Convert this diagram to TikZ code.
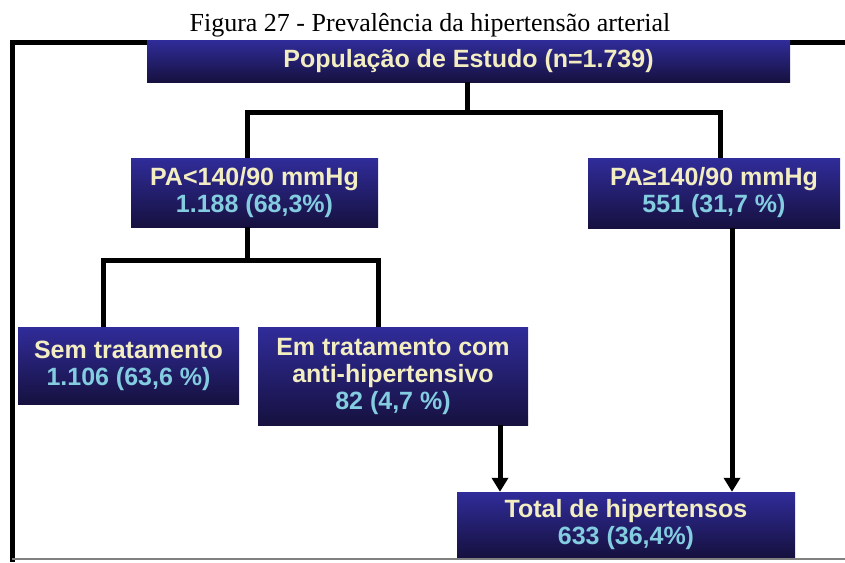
\documentclass[tikz,border=0pt]{standalone}
\usepackage{fontspec}
\setmainfont{Liberation Serif}
\setsansfont{Liberation Sans}
\usepackage{tikz}
\usetikzlibrary{arrows.meta}
\definecolor{boxtop}{HTML}{302C9A}
\definecolor{boxbot}{HTML}{16113F}
\definecolor{cream}{HTML}{F3EDC2}
\definecolor{cyanish}{HTML}{84CDE0}

\begin{document}
\begin{tikzpicture}
  [x=1pt,y=-1pt,
   box/.style={top color=boxtop,bottom color=boxbot,inner sep=0pt,align=center,
     text=cream,font=\sffamily\bfseries\fontsize{25}{27}\selectfont},
   line/.style={line width=5pt},
   arr/.style={line width=5pt,-{Triangle[length=14pt,width=16pt]}}]
  \useasboundingbox (0,0) rectangle (845,562);
  \draw[line] (845,42) -- (12,42) -- (12,562);
  \draw[gray,line width=1.5pt] (12,559) -- (845,559);
  \node[font=\fontsize{26}{30}\selectfont,anchor=base] (title) at (430,31) {Figura 27 - Prevalência da hipertensão arterial};
  \node[box,minimum width=643,minimum height=42] (pop) at (468.5,61) {População de Estudo (n=1.739)};
  \node[box,minimum width=247,minimum height=69] (lo) at (254.5,192.5) {PA<140/90 mmHg\\\textcolor{cyanish}{1.188 (68,3\%)}};
  \node[box,minimum width=252,minimum height=70] (hi) at (714,193) {PA≥140/90 mmHg\\\textcolor{cyanish}{551 (31,7 \%)}};
  \node[box,minimum width=221,minimum height=77] (sem) at (128.5,365.5) {Sem tratamento\\\textcolor{cyanish}{1.106 (63,6 \%)}};
  \node[box,minimum width=270,minimum height=98] (em) at (393,376) {Em tratamento com\\anti-hipertensivo\\\textcolor{cyanish}{82 (4,7 \%)}};
  \node[box,minimum width=338,minimum height=65] (tot) at (626,524.5) {Total de hipertensos\\\textcolor{cyanish}{633 (36,4\%)}};
  \coordinate (j1) at (467,112);
  \coordinate (aL) at (247,112);
  \coordinate (aR) at (720,112);
  \coordinate (j2) at (247,260);
  \coordinate (bL) at (103,260);
  \coordinate (bR) at (378,260);
  \coordinate (t1) at (500,492);
  \coordinate (t2) at (732,492);
  \draw[line] (pop.south -| j1) -- (j1);
  \draw[line] (lo.north -| aL) -- (aL) -- (aR) -- (hi.north -| aR);
  \draw[line] (lo.south -| j2) -- (j2);
  \draw[line] (sem.north -| bL) -- (bL) -- (bR) -- (em.north -| bR);
  \draw[arr] (em.south -| t1) -- (tot.north -| t1);
  \draw[arr] (hi.south -| t2) -- (tot.north -| t2);
\end{tikzpicture}
\end{document}
